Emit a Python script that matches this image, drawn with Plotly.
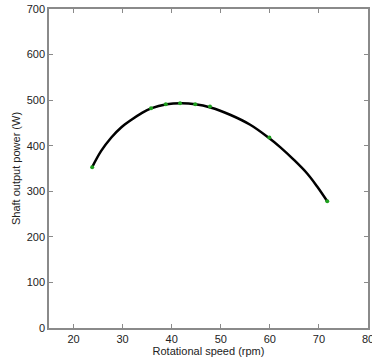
import plotly.graph_objects as go

# measured data points (green markers)
speed_rpm = [23.8, 35.8, 38.8, 41.7, 44.8, 47.8, 59.9, 71.7]
power_w = [353, 482, 491, 493, 491, 486, 418, 278]

# fitted curve
curve_speed = [23.8, 25.6, 27.7, 29.7, 31.8, 33.8, 35.8, 39.0, 42.0, 44.8, 47.9,
               51.9, 56.0, 59.7, 62.1, 64.8, 67.6, 69.6, 71.7]
curve_power = [353, 388, 418, 440, 457, 471, 482, 491, 493, 491, 484,
               468, 446, 418, 397, 370, 339, 311, 278]

x_ticks = [20, 30, 40, 50, 60, 70, 80]
y_ticks = [0, 100, 200, 300, 400, 500, 600, 700]

fig = go.Figure()
fig.add_trace(go.Scatter(
    x=curve_speed, y=curve_power, mode="lines",
    line=dict(color="black", width=2.5, shape="spline", smoothing=1.0),
    hoverinfo="skip", showlegend=False,
))
fig.add_trace(go.Scatter(
    x=speed_rpm, y=power_w, mode="markers",
    marker=dict(color="#1fa01f", size=4),
    showlegend=False,
))

font = dict(family="Liberation Sans, Arial", size=11, color="#222222")
axis_common = dict(
    showgrid=False, zeroline=False, automargin=False,
    showline=True, linecolor="#8a8a8a", linewidth=1.5, mirror="ticks",
    ticks="inside", ticklen=4, tickcolor="#8a8a8a", tickwidth=1,
    tickfont=font, ticklabeloverflow="allow",
)

fig.update_layout(
    width=372, height=362,
    margin=dict(l=49, r=4, t=9, b=34),
    paper_bgcolor="white", plot_bgcolor="white",
    font=font,
    xaxis=dict(range=[15, 80], tickvals=x_ticks,
               title=dict(text="Rotational speed (rpm)", font=font, standoff=2),
               **axis_common),
    yaxis=dict(range=[0, 700], tickvals=y_ticks,
               title=dict(text="Shaft output power (W)", font=font, standoff=4),
               **axis_common),
)

fig.write_html("out.html", config={"displayModeBar": False},
               post_script="document.body.style.margin='0px';")
